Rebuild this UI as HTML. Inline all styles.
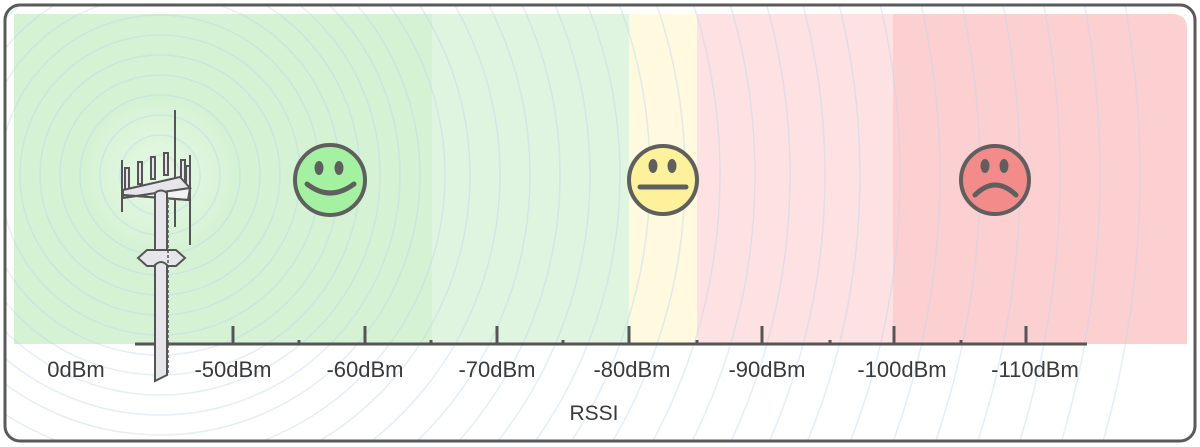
<!DOCTYPE html>
<html><head><meta charset="utf-8"><style>
html,body{margin:0;padding:0;background:#fff;width:1200px;height:447px;overflow:hidden;}
svg{display:block;font-family:"Liberation Sans",sans-serif;}
</style></head><body>
<svg width="1200" height="447" viewBox="0 0 1200 447" xmlns="http://www.w3.org/2000/svg">
<defs>
<clipPath id="cp"><rect x="5" y="5" width="1190" height="436" rx="15"/></clipPath>
<radialGradient id="glow" cx="160" cy="175" r="80" gradientUnits="userSpaceOnUse">
<stop offset="0" stop-color="#e6f8e4"/><stop offset="1" stop-color="#e6f8e4" stop-opacity="0"/></radialGradient>
</defs>
<rect x="5" y="5" width="1190" height="436" rx="15" fill="#fff"/>
<g clip-path="url(#cp)">
<path d="M14 14 H1172 Q1187 14 1187 29 V344 H14 Z" fill="#fcd0d0"/>
<rect x="14" y="14" width="418" height="330" fill="#d5f2d4"/>
<rect x="432" y="14" width="197" height="330" fill="#dff5e0"/>
<rect x="629" y="14" width="68" height="330" fill="#fef9df"/>
<rect x="697" y="14" width="196" height="330" fill="#fee2e3"/>
<circle cx="160" cy="175" r="80" fill="url(#glow)"/>
<g fill="none" stroke="#b9d4ec" stroke-opacity="0.4" stroke-width="1.5">
<circle cx="160" cy="175" r="20"/><circle cx="160" cy="175" r="40"/><circle cx="160" cy="175" r="60"/><circle cx="160" cy="175" r="80"/><circle cx="160" cy="175" r="100"/><circle cx="160" cy="175" r="120"/><circle cx="160" cy="175" r="140"/><circle cx="160" cy="175" r="160"/><circle cx="160" cy="175" r="180"/><circle cx="160" cy="175" r="200"/><circle cx="160" cy="175" r="220"/><circle cx="160" cy="175" r="240"/><circle cx="160" cy="175" r="260"/><circle cx="160" cy="175" r="285"/><circle cx="160" cy="175" r="310"/><circle cx="160" cy="175" r="340"/><circle cx="160" cy="175" r="370"/><circle cx="160" cy="175" r="400"/><circle cx="160" cy="175" r="430"/><circle cx="160" cy="175" r="460"/><circle cx="160" cy="175" r="490"/><circle cx="160" cy="175" r="525"/><circle cx="160" cy="175" r="560"/><circle cx="160" cy="175" r="595"/><circle cx="160" cy="175" r="630"/><circle cx="160" cy="175" r="665"/><circle cx="160" cy="175" r="700"/><circle cx="160" cy="175" r="740"/><circle cx="160" cy="175" r="780"/><circle cx="160" cy="175" r="820"/><circle cx="160" cy="175" r="860"/><circle cx="160" cy="175" r="900"/><circle cx="160" cy="175" r="940"/><circle cx="160" cy="175" r="980"/>
</g>
</g>
<rect x="5" y="5" width="1190" height="436" rx="15" fill="none" stroke="#5a5a5a" stroke-width="3"/>
<g stroke="#555" stroke-width="3">
<line x1="135" y1="344" x2="1087" y2="344"/>
<line x1="233" y1="326" x2="233" y2="344"/><line x1="365" y1="326" x2="365" y2="344"/><line x1="497" y1="326" x2="497" y2="344"/><line x1="629" y1="326" x2="629" y2="344"/><line x1="762" y1="326" x2="762" y2="344"/><line x1="894" y1="326" x2="894" y2="344"/><line x1="1026" y1="326" x2="1026" y2="344"/>
<line x1="299" y1="340" x2="299" y2="344"/><line x1="431" y1="340" x2="431" y2="344"/><line x1="563" y1="340" x2="563" y2="344"/><line x1="697" y1="340" x2="697" y2="344"/><line x1="830" y1="340" x2="830" y2="344"/><line x1="961" y1="340" x2="961" y2="344"/>
</g>
<g font-size="22" fill="#3a3a3a" text-anchor="middle">
<text x="76" y="377">0dBm</text><text x="233" y="377">-50dBm</text><text x="365" y="377">-60dBm</text><text x="497" y="377">-70dBm</text><text x="632" y="377">-80dBm</text><text x="767" y="377">-90dBm</text><text x="902" y="377">-100dBm</text><text x="1035" y="377">-110dBm</text>
<text x="594" y="420" font-size="21">RSSI</text>
</g>
<g stroke="#555" stroke-width="2" fill="#e6e6ea">
<line x1="175" y1="110" x2="175" y2="227"/>
<line x1="122" y1="160" x2="122" y2="212"/><line x1="190" y1="155" x2="190" y2="245"/>
<rect x="125" y="168" width="4" height="22"/><rect x="138" y="162" width="4" height="22"/><rect x="151" y="157" width="4" height="22"/><rect x="164" y="153" width="4" height="22"/><rect x="181" y="160" width="4" height="22"/><rect x="186" y="166" width="4" height="22"/>
<path d="M123 190 L180 177 L190 188 L123 198 Z"/>
<path d="M123 198 L190 188 L188 200 L123 195 Z" fill="#f2f2f4"/>
<line x1="122" y1="195" x2="190" y2="200"/>
<path d="M155 193 Q161 188 167 193 V255 H155 Z"/>
<path d="M138 258 L147 250 H176 L185 258 L176 266 H147 Z"/>
<path d="M155 265 Q161 259 167 265 V375 L155 381 Z"/>
<line x1="168" y1="200" x2="168" y2="375" stroke-dasharray="3 2" stroke-width="1.5"/>
</g>
<g stroke="#5f5f5f" stroke-width="4">
<circle cx="330" cy="180" r="35" fill="#a5f1a2"/>
<circle cx="663" cy="180" r="34" fill="#fdf29b"/>
<circle cx="995" cy="180" r="34" fill="#f38b8a"/>
</g>
<g fill="#5f5f5f">
<ellipse cx="319" cy="168" rx="4.5" ry="7"/><ellipse cx="339" cy="168" rx="4.5" ry="7"/>
<ellipse cx="653" cy="166" rx="4.5" ry="7"/><ellipse cx="672" cy="166" rx="4.5" ry="7"/>
<ellipse cx="985" cy="166" rx="4.5" ry="7"/><ellipse cx="1004" cy="166" rx="4.5" ry="7"/>
</g>
<g fill="none" stroke="#5f5f5f" stroke-width="5" stroke-linecap="round">
<path d="M307 184 Q330 202 354 184"/>
<line x1="640" y1="187" x2="686" y2="187"/>
<path d="M975 195 Q995 175 1016 195"/>
</g>
</svg>
</body></html>
